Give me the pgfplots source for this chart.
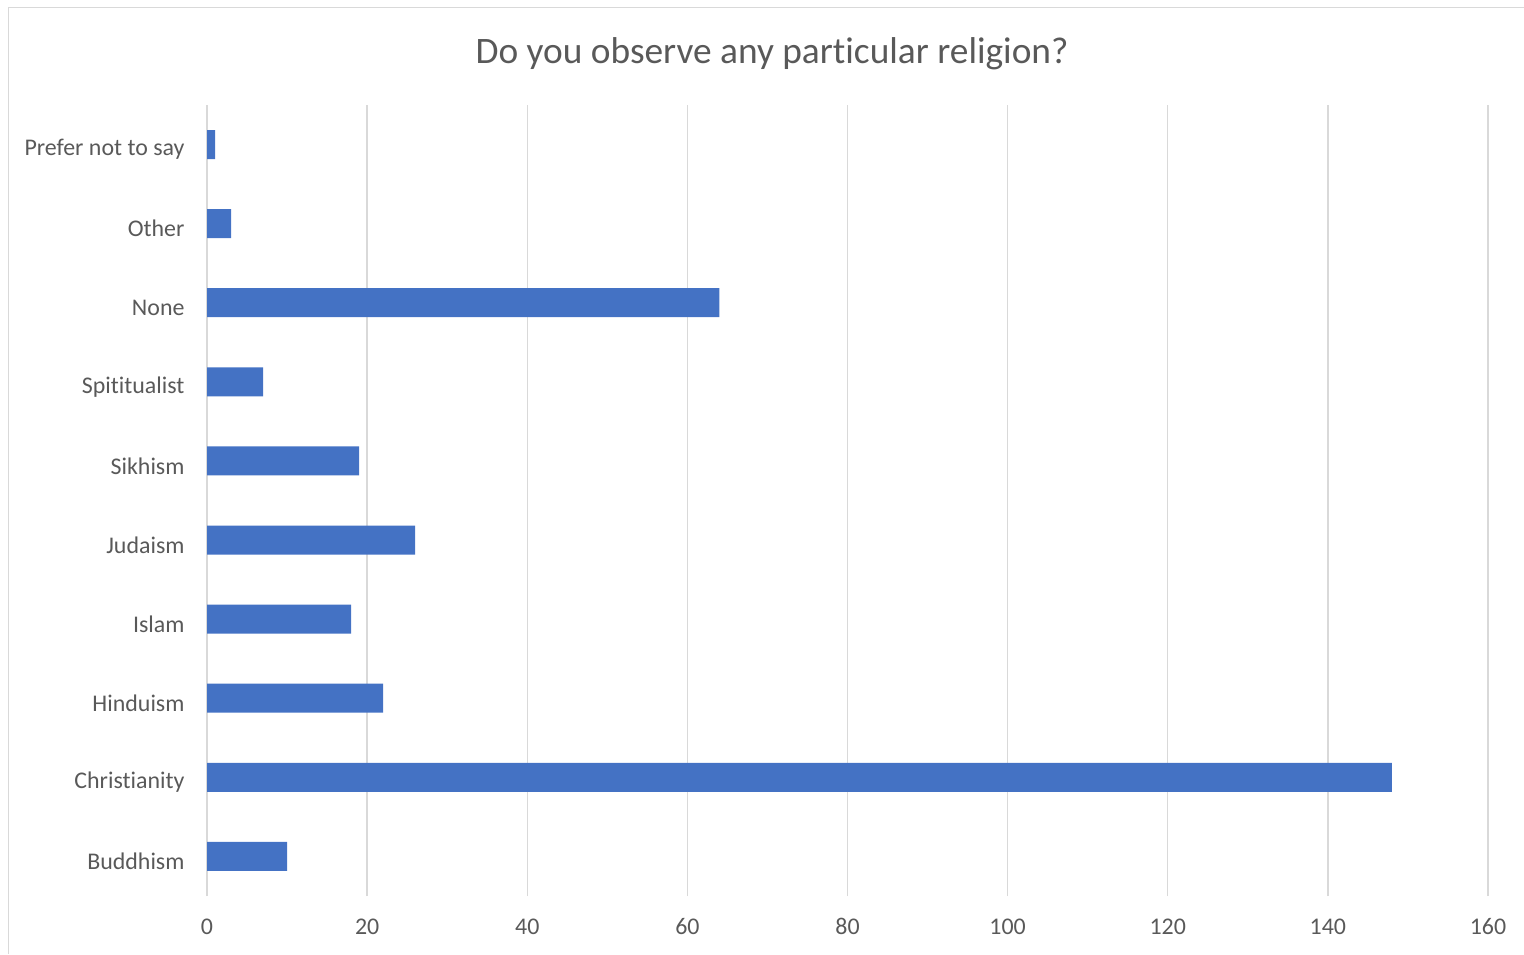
\documentclass[border=0pt]{standalone}
\usepackage{pgfplots}
\pgfplotsset{compat=1.18}
\usepackage{fontspec}
\setmainfont{Carlito}[Ligatures=NoCommon]
\definecolor{barblue}{HTML}{4472C4}
\definecolor{txt}{HTML}{595959}
\definecolor{gridc}{HTML}{D9D9D9}
\begin{document}
\begin{tikzpicture}[x=1bp,y=1bp]
\useasboundingbox (0,0) rectangle (1524,954);
\draw[color=gridc, line width=1.8bp] (8.5,0) -- (8.5,946.5) -- (1524,946.5);
\begin{axis}[at={(207bp,58bp)}, anchor=south west, scale only axis,
  width=1281bp, height=791bp,
  xbar, bar width=29bp,
  xmin=0, xmax=160, xtick={0,20,...,160},
  ymin=-0.5, ymax=9.5, ytick={0,...,9},
  yticklabels={Buddhism,Christianity,Hinduism,Islam,Judaism,Sikhism,Spititualist,None,Other,Prefer not to say},
  axis line style={draw=none}, major tick length=0,
  xmajorgrids, grid style={gridc, line width=1.4bp},
  tick label style={font=\fontsize{24}{28}\selectfont, text=txt},
  /pgf/number format/assume math mode=true,
  xticklabel style={yshift=-19bp},
  yticklabel style={xshift=-19bp, yshift=-5bp},
  ]
\addplot[fill=barblue, draw=none] coordinates {(10,0) (148,1) (22,2) (18,3) (26,4) (19,5) (7,6) (64,7) (3,8) (1,9)};
\end{axis}
\node[text=txt, font=\fontsize{37.5}{42}\selectfont] at (772,900) {Do you observe any particular religion?};
\end{tikzpicture}
\end{document}
